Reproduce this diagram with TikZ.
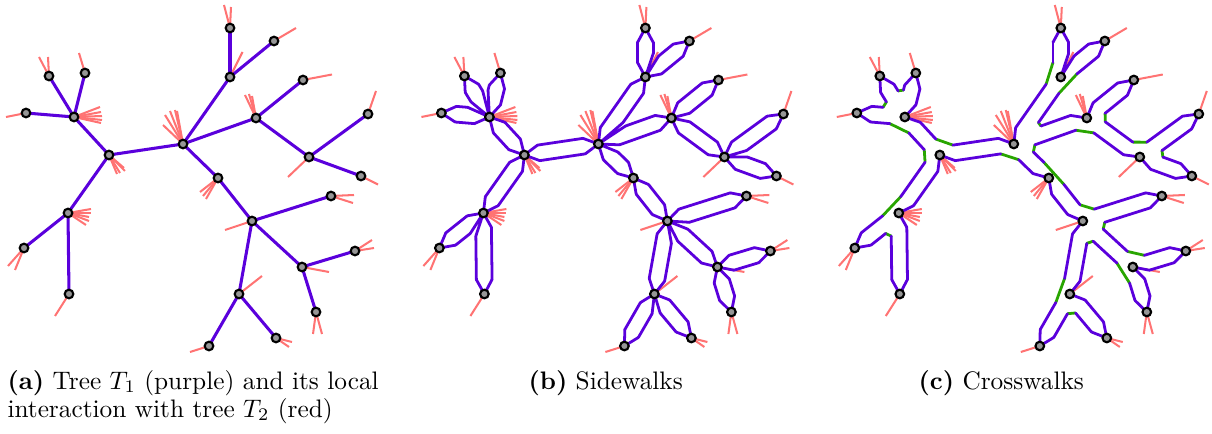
\documentclass[tikz,border=0pt]{standalone}
\usetikzlibrary{calc}
\definecolor{tpurple}{RGB}{90,0,220}
\definecolor{tred}{RGB}{255,115,115}
\definecolor{tgreen}{RGB}{40,165,0}
\definecolor{tgray}{RGB}{150,150,150}
\tikzset{
  edgeone/.style={tpurple, line width=1.2pt},
  walk/.style={tpurple, line width=1.1pt, line join=round, line cap=round},
  cross/.style={tgreen, line width=1.1pt, line cap=round},
  stub/.style={tred, line width=0.8pt},
  vert/.style={circle, draw=black, fill=tgray, line width=0.85pt, inner sep=0pt, minimum size=3.4pt},
  captext/.style={anchor=base west, inner sep=0pt}
}
\newcommand\pp{a}
\newcommand\cmode{b}
\newcommand\sidea{5.7pt}
\newcommand\sidew{3.1pt}
\newcommand\sidegap{2.77pt}
\newcommand\treecoords{%
  \coordinate (\pp A) at (49,76);
  \coordinate (\pp B) at (85,73);
  \coordinate (\pp C) at (26,113);
  \coordinate (\pp D) at (74,117);
  \coordinate (\pp E) at (109,155);
  \coordinate (\pp F) at (183,144);
  \coordinate (\pp G) at (230,28);
  \coordinate (\pp H) at (274,41);
  \coordinate (\pp I) at (230,77);
  \coordinate (\pp J) at (303,80);
  \coordinate (\pp K) at (256,118);
  \coordinate (\pp L) at (368,114);
  \coordinate (\pp M) at (309,157);
  \coordinate (\pp N) at (361,176);
  \coordinate (\pp O) at (218,178);
  \coordinate (\pp P) at (331,196);
  \coordinate (\pp Q) at (68,213);
  \coordinate (\pp R) at (24,248);
  \coordinate (\pp S) at (69,294);
  \coordinate (\pp T) at (252,221);
  \coordinate (\pp U) at (355,251);
  \coordinate (\pp V) at (302,267);
  \coordinate (\pp W) at (316,312);
  \coordinate (\pp X) at (239,294);
  \coordinate (\pp Y) at (209,346);
  \coordinate (\pp Z) at (276,338);
}
\newcommand\edgelist{D/A,D/B,D/C,D/E,E/F,E/Q,Q/R,Q/S,F/I,I/G,I/H,F/K,K/J,K/M,M/L,M/N,F/O,O/T,T/P,T/V,V/U,V/W,T/X,X/Y,X/Z}
\newcommand\drawstubs{%
  \foreach \s/\dx/\dy in {A/-10/-19, A/-1/-19, B/-6/-20, C/-20/4,
    D/26/-10, D/27/-5, D/28/-1, D/28/3, D/27/6,
    E/8/19, E/11/18, E/16/16, E/15/13,
    F/-18/-29, F/-13/-33, F/-8/-34, F/-6/-33, F/-20/-19,
    G/-6/-23, G/1/-21, H/22/-13, I/12.5/-25, J/29/-5.5,
    K/-11/-23, K/-7/-24, K/-4/-22, L/8/-23, M/-21/20, N/17/8.5,
    O/-18/14, O/-15/18, O/-12/21, P/23/-1, P/22/7,
    Q/23/-4, Q/23/0, Q/21/4, Q/21/8, Q/18/12,
    R/-16/18, R/-9/22, S/-14/22, T/-27/9, U/17/-11, U/19/-3,
    V/27/5, W/-3/22, W/6/22, X/23/-18, Y/-19/6, Z/16/4, Z/13/9}
    {\draw[stub] (\pp\s) -- ++(\dx,\dy);}
}
\newcommand\drawverts{%
  \foreach \s in {A,B,C,D,E,F,G,H,I,J,K,L,M,N,O,P,Q,R,S,T,U,V,W,X,Y,Z}
    {\node[vert] (\pp\s v) at (\pp\s) {};}
}
\newcommand\throughdraw[3]{\draw[walk] (\pp#1-#2-R) -- (\pp#1) -- (\pp#1-#3-L);}
\newcommand\crossdraw[3]{\draw[cross] (\pp#1-#2-R) -- (\pp#1-#3-L);}
\newcommand\cdbn{\throughdraw}
\newcommand\cdbg{\throughdraw}
\newcommand\cdcn{\throughdraw}
\newcommand\cdcg{\crossdraw}
\newcommand\mkcorner[4]{%
  \path let \p1=($(\pp#2)-(\pp#1)$), \p2=($(\pp#3)-(\pp#1)$),
    \n1={mod(atan2(\y1,\x1)-atan2(\y2,\x2)+720,360)},
    \n2={max(\sidea,\sidew*cos(\n1/2)/sin(\n1/2)+\sidegap)}
    in coordinate (\pp#1-#2-R) at ($(\pp#1)!\n2!(\pp#2)!\sidew!-90:(\pp#2)$)
       coordinate (\pp#1-#3-L) at ($(\pp#1)!\n2!(\pp#3)!\sidew!90:(\pp#3)$);
  \csname cd\cmode#4\endcsname{#1}{#2}{#3}%
}
\newcommand\mkleaf[2]{%
  \coordinate (\pp#1-#2-R) at ($(\pp#1)!\sidea!(\pp#2)!\sidew!-90:(\pp#2)$);
  \coordinate (\pp#1-#2-L) at ($(\pp#1)!\sidea!(\pp#2)!\sidew!90:(\pp#2)$);
  \draw[walk] (\pp#1-#2-R) -- (\pp#1) -- (\pp#1-#2-L);
}
\newcommand\allcorners{%
  \mkcorner{D}{E}{C}{g}\mkcorner{D}{C}{A}{g}\mkcorner{D}{A}{B}{g}\mkcorner{D}{B}{E}{n}
  \mkcorner{E}{Q}{D}{g}\mkcorner{E}{D}{F}{g}\mkcorner{E}{F}{Q}{n}
  \mkcorner{F}{O}{E}{g}\mkcorner{F}{E}{I}{n}\mkcorner{F}{I}{K}{g}\mkcorner{F}{K}{O}{g}
  \mkcorner{I}{F}{G}{g}\mkcorner{I}{G}{H}{n}\mkcorner{I}{H}{F}{g}
  \mkcorner{K}{M}{F}{g}\mkcorner{K}{F}{J}{n}\mkcorner{K}{J}{M}{g}
  \mkcorner{M}{N}{K}{n}\mkcorner{M}{K}{L}{g}\mkcorner{M}{L}{N}{g}
  \mkcorner{O}{T}{F}{n}\mkcorner{O}{F}{T}{g}
  \mkcorner{T}{V}{X}{g}\mkcorner{T}{X}{O}{n}\mkcorner{T}{O}{P}{g}\mkcorner{T}{P}{V}{g}
  \mkcorner{V}{W}{T}{g}\mkcorner{V}{T}{U}{g}\mkcorner{V}{U}{W}{n}
  \mkcorner{X}{Z}{Y}{g}\mkcorner{X}{Y}{T}{g}\mkcorner{X}{T}{Z}{n}
  \mkcorner{Q}{S}{R}{g}\mkcorner{Q}{R}{E}{g}\mkcorner{Q}{E}{S}{n}
  \mkleaf{A}{D}\mkleaf{B}{D}\mkleaf{C}{D}\mkleaf{G}{I}\mkleaf{H}{I}
  \mkleaf{J}{K}\mkleaf{L}{M}\mkleaf{N}{M}\mkleaf{P}{T}\mkleaf{R}{Q}
  \mkleaf{S}{Q}\mkleaf{U}{V}\mkleaf{W}{V}\mkleaf{Y}{X}\mkleaf{Z}{X}
}
\newcommand\allsides{%
  \foreach \u/\w in \edgelist
    {\draw[walk] (\pp\u-\w-R) -- (\pp\w-\u-L);
     \draw[walk] (\pp\u-\w-L) -- (\pp\w-\u-R);}
}
\begin{document}
\begin{tikzpicture}[x=0.395pt,y=-0.395pt]
\useasboundingbox (0,0) rectangle (1212,434);
% panel (a)
\begin{scope}
  \renewcommand\pp{a}
  \treecoords
  \drawstubs
  \foreach \u/\w in \edgelist {\draw[edgeone] (\pp\u) -- (\pp\w);}
  \drawverts
\end{scope}
% panel (b)
\begin{scope}[shift={(415.4,0)}]
  \renewcommand\pp{b}\renewcommand\cmode{b}
  \treecoords
  \drawstubs
  \allcorners
  \allsides
  \drawverts
\end{scope}
% panel (c)
\begin{scope}[shift={(830.8,0)}]
  \renewcommand\pp{c}\renewcommand\cmode{c}
  \treecoords
  \drawstubs
  \allcorners
  \allsides
  \drawverts
\end{scope}
\node[captext] (capa1) at (7,389) {\textbf{(a)} Tree $T_1$ (purple) and its local};
\node[captext] (capa2) at (7,417) {interaction with tree $T_2$ (red)};
\node[captext] (capb) at (528,389) {\textbf{(b)} Sidewalks};
\node[captext] (capc) at (918,389) {\textbf{(c)} Crosswalks};
\end{tikzpicture}
\end{document}
